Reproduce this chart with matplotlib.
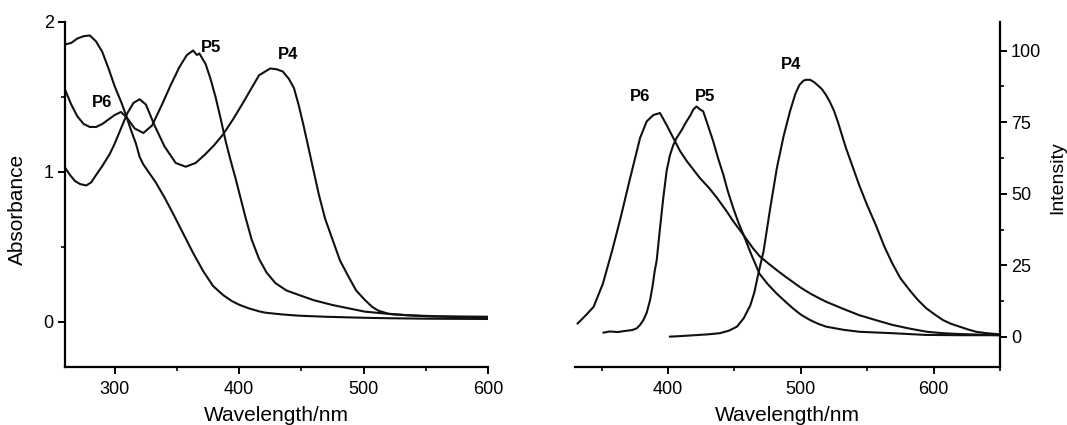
import matplotlib
matplotlib.use("Agg")
import matplotlib.pyplot as plt
from matplotlib.ticker import MultipleLocator

plt.rcParams['font.family'] = ['Liberation Sans', 'DejaVu Sans']

# absorption spectra (left)
abs_p6_nm = [260, 265, 270, 275, 280, 285, 290, 295, 300, 305, 309, 313, 317, 320, 323,
             328, 333, 340, 347, 355, 363, 371, 379, 387, 394, 400, 408, 416, 421,
             435, 448, 469, 500, 521, 550, 600]
abs_p6 = [1.85, 1.86, 1.89, 1.905, 1.91, 1.87, 1.80, 1.69, 1.57, 1.47, 1.38, 1.28, 1.19,
          1.10, 1.05, 0.99, 0.93, 0.83, 0.72, 0.59, 0.46, 0.34, 0.24, 0.18, 0.14,
          0.115, 0.09, 0.071, 0.062, 0.05, 0.042, 0.035, 0.028, 0.025, 0.022, 0.02]

abs_p5_nm = [260, 265, 270, 275, 280, 285, 290, 295, 300, 305, 310, 316, 323, 330,
             338, 345, 352, 358, 363, 366, 368, 373, 377, 381, 385, 389, 393, 397,
             401, 405, 410, 416, 422, 429, 438, 448, 460, 475, 501, 525, 550, 600]
abs_p5 = [1.55, 1.45, 1.37, 1.32, 1.30, 1.30, 1.32, 1.35, 1.38, 1.40, 1.36, 1.29,
          1.26, 1.31, 1.45, 1.58, 1.70, 1.78, 1.81, 1.78, 1.79, 1.72, 1.62, 1.50,
          1.36, 1.21, 1.08, 0.96, 0.83, 0.70, 0.55, 0.42, 0.33, 0.26, 0.21, 0.18,
          0.145, 0.113, 0.069, 0.05, 0.038, 0.028]

abs_p4_nm = [260, 264, 268, 272, 277, 281, 285, 290, 296, 300, 305, 310, 315, 320,
             325, 332, 340, 349, 357, 365, 373, 380, 387, 395, 403, 410, 416, 421,
             425, 430, 435, 440, 444, 448, 452, 456, 460, 464, 469, 475, 481, 488,
             494, 501, 507, 512, 520, 535, 560, 600]
abs_p4 = [1.03, 0.98, 0.94, 0.92, 0.91, 0.93, 0.98, 1.04, 1.12, 1.19, 1.29, 1.39,
          1.46, 1.485, 1.45, 1.31, 1.17, 1.06, 1.035, 1.06, 1.12, 1.18, 1.25, 1.35,
          1.46, 1.56, 1.645, 1.67, 1.69, 1.685, 1.67, 1.62, 1.56, 1.44, 1.30, 1.15,
          1.00, 0.85, 0.69, 0.55, 0.41, 0.30, 0.21, 0.147, 0.10, 0.075, 0.055, 0.045,
          0.038, 0.035]

# emission spectra (right)
em_p6_nm = [332, 338, 344, 351, 358, 364, 371, 379, 384, 389, 394, 399, 404, 409,
            414, 419, 424, 431, 437, 444, 449, 457, 464, 469, 476, 482, 488, 494,
            500, 507, 513, 519, 532, 544, 557, 569, 582, 595, 607, 620, 635, 650]
em_p6 = [4.7, 7.5, 10.5, 18.6, 30.2, 41, 54.5, 69.5, 75.3, 77.5, 78.2, 74, 69.5,
         65, 61.5, 58.5, 55.5, 52, 48.5, 44, 40.5, 35.5, 31, 28.2, 25.5, 23.3, 21.2,
         19.2, 17.2, 15.2, 13.7, 12.3, 9.8, 7.6, 5.8, 4.2, 2.9, 1.8, 1.3, 1.0, 0.8, 0.6]

em_p5_nm = [351.5, 356, 362, 368, 373, 376.5, 379, 381.5, 384, 386.5, 388.5, 390,
            391.5, 394, 396.5, 399, 401.5, 404, 406.5, 410, 414, 417, 419, 421.5,
            424, 426.5, 430, 434, 438, 441.6, 445, 449, 453, 456.6, 463, 469, 475,
            481.7, 488, 494, 500, 507, 513, 519, 532, 544, 569, 594, 620, 650]
em_p5 = [1.5, 1.9, 1.7, 2.1, 2.4, 3.0, 4.2, 5.9, 8.5, 12.8, 18, 23, 26.7, 38, 48.7,
         58, 63.5, 67, 69.5, 72, 75.3, 77.5, 79.4, 80.5, 79.5, 78.8, 74, 68.4, 62,
         56.8, 51, 45.2, 40, 36, 28.5, 22, 18.5, 15.2, 12.5, 10, 7.8, 5.9, 4.6, 3.6,
         2.5, 1.8, 1.3, 0.7, 0.6, 0.6]

em_p4_nm = [401.5, 410, 420, 430, 439, 446, 452, 457, 462, 465, 468, 472, 477, 482,
            487, 492, 496, 499, 502, 504, 507, 510, 513, 516, 519, 522, 525, 528,
            531, 534, 539, 544, 550, 557, 563, 569, 575, 582, 588, 594.5, 601, 607,
            613, 619.5, 626, 632, 640, 650]
em_p4 = [0.1, 0.3, 0.6, 0.9, 1.3, 2.2, 3.6, 6.5, 11, 15.5, 22, 30, 45, 59, 70, 79,
         85, 88, 89.5, 89.8, 89.8, 89, 87.8, 86.5, 84.5, 82, 79, 75, 70.5, 66, 59.5,
         53, 46, 38.5, 31.5, 25.6, 20.5, 16.3, 13, 10, 7.8, 5.9, 4.6, 3.6, 2.6, 1.8,
         1.3, 0.9]

abs_labels = [("P6", 290, 1.46), ("P5", 377, 1.83), ("P4", 439, 1.78)]
em_labels = [("P6", 379, 84), ("P5", 428, 84), ("P4", 493, 95)]

line_kw = dict(color="#111111", lw=1.5, solid_joinstyle="round")

fig = plt.figure(figsize=(10.67, 4.25), dpi=100)
ax1 = fig.add_axes([0.0609, 0.1365, 0.3965, 0.8118])
ax2 = fig.add_axes([0.5389, 0.1365, 0.3983, 0.8118])

for nm, val in [(abs_p6_nm, abs_p6), (abs_p5_nm, abs_p5), (abs_p4_nm, abs_p4)]:
    ax1.plot(nm, val, **line_kw)
for nm, val in [(em_p6_nm, em_p6), (em_p5_nm, em_p5), (em_p4_nm, em_p4)]:
    ax2.plot(nm, val, **line_kw)

for txt, x, y in abs_labels:
    ax1.text(x, y, txt, fontsize=12, fontweight="bold", ha="center", va="center")
for txt, x, y in em_labels:
    ax2.text(x, y, txt, fontsize=12, fontweight="bold", ha="center", va="center")

ax1.set_xlim(260, 600)
ax1.set_ylim(-0.3, 2.0)
ax1.xaxis.set_major_locator(MultipleLocator(100))
ax1.xaxis.set_minor_locator(MultipleLocator(50))
ax1.yaxis.set_major_locator(MultipleLocator(1))
ax1.yaxis.set_minor_locator(MultipleLocator(0.5))
ax1.spines[["top", "right"]].set_visible(False)
ax1.set_ylabel("Absorbance", fontsize=15)
ax1.yaxis.set_label_coords(-0.09, 0.458)

ax2.set_xlim(330, 650)
ax2.set_ylim(-10.5, 110)
ax2.xaxis.set_major_locator(MultipleLocator(100))
ax2.xaxis.set_minor_locator(MultipleLocator(50))
ax2.yaxis.set_major_locator(MultipleLocator(25))
ax2.yaxis.set_minor_locator(MultipleLocator(12.5))
ax2.spines[["top", "left"]].set_visible(False)
ax2.yaxis.tick_right()
ax2.yaxis.set_label_position("right")
ax2.set_ylabel("Intensity", fontsize=14)
ax2.yaxis.set_label_coords(1.116, 0.55)

for ax in (ax1, ax2):
    for s in ax.spines.values():
        s.set_linewidth(1.6)
    ax.tick_params(which="major", length=5, width=1.4, labelsize=13, pad=3)
    ax.tick_params(which="minor", length=3, width=1.2)
    ax.tick_params(axis="x", pad=5)
    ax.set_xlabel("Wavelength/nm", fontsize=15, labelpad=5.5)
    ax.set_facecolor("none")

fig.savefig("out.png", dpi=100, facecolor="white")
